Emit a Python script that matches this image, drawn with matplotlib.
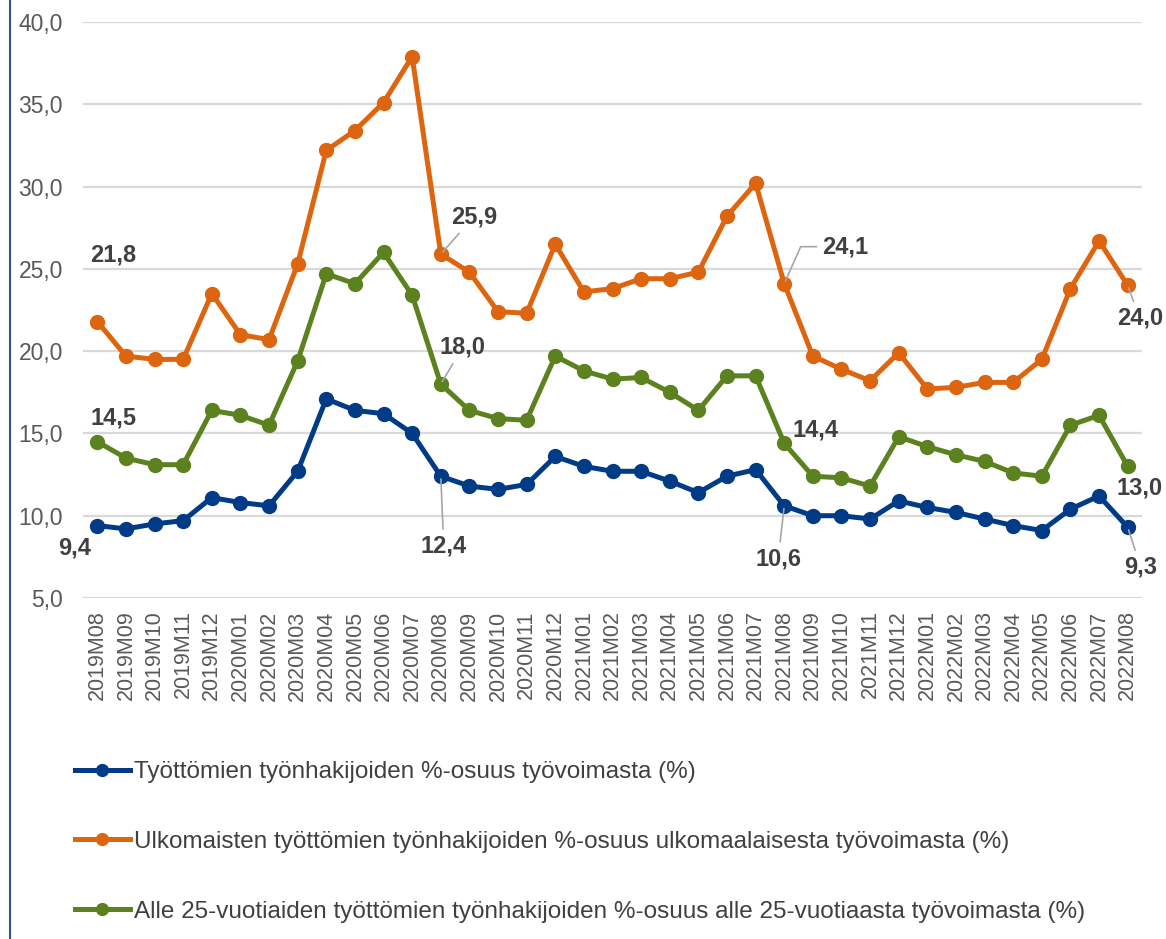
import numpy as np
import matplotlib
matplotlib.use("Agg")
import matplotlib.pyplot as plt
from matplotlib.lines import Line2D

plt.rcParams['font.family'] = ['Liberation Sans', 'DejaVu Sans']

# Kuukaudet
months = ["2019M08", "2019M09", "2019M10", "2019M11", "2019M12",
          "2020M01", "2020M02", "2020M03", "2020M04", "2020M05", "2020M06",
          "2020M07", "2020M08", "2020M09", "2020M10", "2020M11", "2020M12",
          "2021M01", "2021M02", "2021M03", "2021M04", "2021M05", "2021M06",
          "2021M07", "2021M08", "2021M09", "2021M10", "2021M11", "2021M12",
          "2022M01", "2022M02", "2022M03", "2022M04", "2022M05", "2022M06",
          "2022M07", "2022M08"]

# Sarjat (%)
kaikki = [9.4, 9.2, 9.5, 9.7, 11.1, 10.8, 10.6, 12.7, 17.1, 16.4, 16.2,
          15.0, 12.4, 11.8, 11.6, 11.9, 13.6, 13.0, 12.7, 12.7, 12.1, 11.4,
          12.4, 12.8, 10.6, 10.0, 10.0, 9.8, 10.9, 10.5, 10.2, 9.8, 9.4,
          9.1, 10.4, 11.2, 9.3]
ulkomaiset = [21.8, 19.7, 19.5, 19.5, 23.5, 21.0, 20.7, 25.3, 32.2, 33.4,
              35.1, 37.9, 25.9, 24.8, 22.4, 22.3, 26.5, 23.6, 23.8, 24.4,
              24.4, 24.8, 28.2, 30.2, 24.1, 19.7, 18.9, 18.2, 19.9, 17.7,
              17.8, 18.1, 18.1, 19.5, 23.8, 26.7, 24.0]
nuoret = [14.5, 13.5, 13.1, 13.1, 16.4, 16.1, 15.5, 19.4, 24.7, 24.1, 26.0,
          23.4, 18.0, 16.4, 15.9, 15.8, 19.7, 18.8, 18.3, 18.4, 17.5, 16.4,
          18.5, 18.5, 14.4, 12.4, 12.3, 11.8, 14.8, 14.2, 13.7, 13.3, 12.6,
          12.4, 15.5, 16.1, 13.0]

labels = ["Työttömien työnhakijoiden %-osuus työvoimasta (%)",
          "Ulkomaisten työttömien työnhakijoiden %-osuus ulkomaalaisesta työvoimasta (%)",
          "Alle 25-vuotiaiden työttömien työnhakijoiden %-osuus alle 25-vuotiaasta työvoimasta (%)"]
colors = ["#003B87", "#DE650F", "#5B821E"]

fig = plt.figure(figsize=(11.66, 9.39), dpi=100)
ax = fig.add_axes([83 / 1166, 1 - 598 / 939, (1142 - 83) / 1166, (598 - 22) / 939])

x = np.arange(len(months))
series = [kaikki, ulkomaiset, nuoret]
for s, c, lab in zip(series, colors, labels):
    ax.plot(x, s, color=c, lw=3.6, marker='o', ms=10, label=lab, zorder=3)

ax.set_xlim(-0.5, len(months) - 0.5)
ax.set_ylim(5, 40)
ax.set_yticks(np.arange(5, 41, 5))
ax.set_yticklabels([f"{v:.1f}".replace('.', ',') for v in np.arange(5, 41, 5)])
ax.set_xticks(x)
ax.set_xticklabels(months, rotation=90)
ax.tick_params(axis='y', length=0, labelsize=16.5, labelcolor='#595959', pad=14.5)
ax.tick_params(axis='x', length=0, labelsize=15.5, labelcolor='#595959', pad=9)
ax.grid(axis='y', color='#d9d9d9', lw=1.6)
ax.set_axisbelow(True)
for sp in ax.spines.values():
    sp.set_visible(False)


def fmt(v):
    return f"{v:.1f}".replace('.', ',')


# Arvojen selitteet: (sarja, indeksi, siirtymä pikseleinä, johtoviiva)
notes = [
    (1, 0, (16, 67), None),
    (2, 0, (16, 24), None),
    (0, 0, (-23, -22), None),
    (1, 12, (33, 37), "arc3"),
    (2, 12, (22, 37), "arc3"),
    (0, 12, (3, -70), "arc3"),
    (1, 24, (61, 37), "angle,angleA=0,angleB=66,rad=0"),
    (2, 24, (31, 13), None),
    (0, 24, (-6, -53), "arc3"),
    (1, 36, (12, -33), "arc3"),
    (2, 36, (12, -22), None),
    (0, 36, (13, -40), "arc3"),
]
for si, i, off, conn in notes:
    v = series[si][i]
    kw = {}
    if conn is not None:
        kw['arrowprops'] = dict(arrowstyle='-', color='#a6a6a6', lw=1.2,
                                connectionstyle=conn, shrinkA=2, shrinkB=2)
    ax.annotate(fmt(v), xy=(i, v), xytext=off, textcoords='offset pixels',
                ha='center', va='center', fontsize=17, fontweight='bold',
                color='#404040', annotation_clip=False, zorder=5, **kw)

fig.legend(loc='upper left', bbox_to_anchor=(75 / 1166, 1 - 761 / 939),
           frameon=False, fontsize=17.5, labelcolor='#404040',
           handlelength=2.26, handletextpad=0.165, labelspacing=1.97,
           borderpad=0, borderaxespad=0, markerscale=0.85)

fig.add_artist(Line2D([10 / 1166, 10 / 1166], [0, 1], color='#2F5597', lw=1.5))

fig.savefig("out.png", dpi=100)
